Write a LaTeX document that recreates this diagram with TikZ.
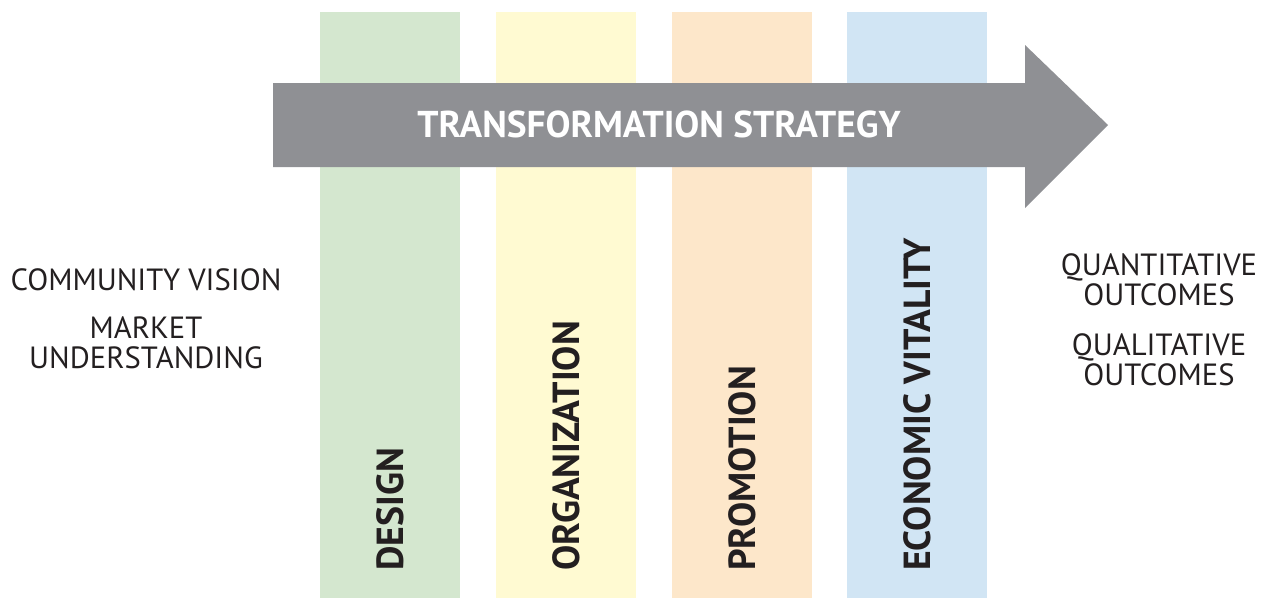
\documentclass[tikz,border=0pt]{standalone}
\usepackage{fontspec}
\setmainfont{PT Sans}
\usetikzlibrary{positioning}
\definecolor{designgreen}{HTML}{D4E7CF}
\definecolor{orgyellow}{HTML}{FFFAD2}
\definecolor{promopeach}{HTML}{FDE7CA}
\definecolor{econblue}{HTML}{D1E5F4}
\definecolor{arrowgrey}{HTML}{8F9094}
\definecolor{textblack}{HTML}{231F20}
\begin{document}
\begin{tikzpicture}[x=0.75pt, y=-0.75pt,
    column/.style = {anchor=north, minimum width=105pt, minimum height=439pt, inner sep=0pt},
    pillar/.style = {rotate=90, anchor=west, inner sep=0pt, font=\fontsize{28.3}{30}\selectfont\bfseries, text=textblack},
    side/.style = {align=center, font=\fontsize{23}{22.5}\selectfont, text=textblack}]
\useasboundingbox (0,0) rectangle (1263,597);
% four pillars
\node[column, fill=designgreen] (design) at (390,12) {};
\node[column, fill=orgyellow] (organization) at (566,12) {};
\node[column, fill=promopeach] (promotion) at (742,12) {};
\node[column, fill=econblue] (economic) at (917,12) {};
% strategy arrow
\fill[arrowgrey] (273,83) -- (1025,83) -- (1025,45) -- (1108,125)
    -- (1025,208) -- (1025,167) -- (273,167) -- cycle;
\node[text=white, font=\fontsize{28}{30}\selectfont\bfseries] (strategy) at (659,124) {TRANSFORMATION STRATEGY};
% pillar labels
\node[pillar] (designlabel) at (390,571) {DESIGN};
\node[pillar] (orglabel) at (566,571) {ORGANIZATION};
\node[pillar] (promolabel) at (742,571) {PROMOTION};
\node[pillar] (econlabel) at (917,571) {ECONOMIC VITALITY};
% inputs and outcomes
\node[side] (vision) at (146,280) {COMMUNITY VISION};
\node[side] (market) at (146,343) {MARKET\\UNDERSTANDING};
\node[side] (quantitative) at (1159,280) {QUANTITATIVE\\OUTCOMES};
\node[side] (qualitative) at (1159,360) {QUALITATIVE\\OUTCOMES};
\end{tikzpicture}
\end{document}
